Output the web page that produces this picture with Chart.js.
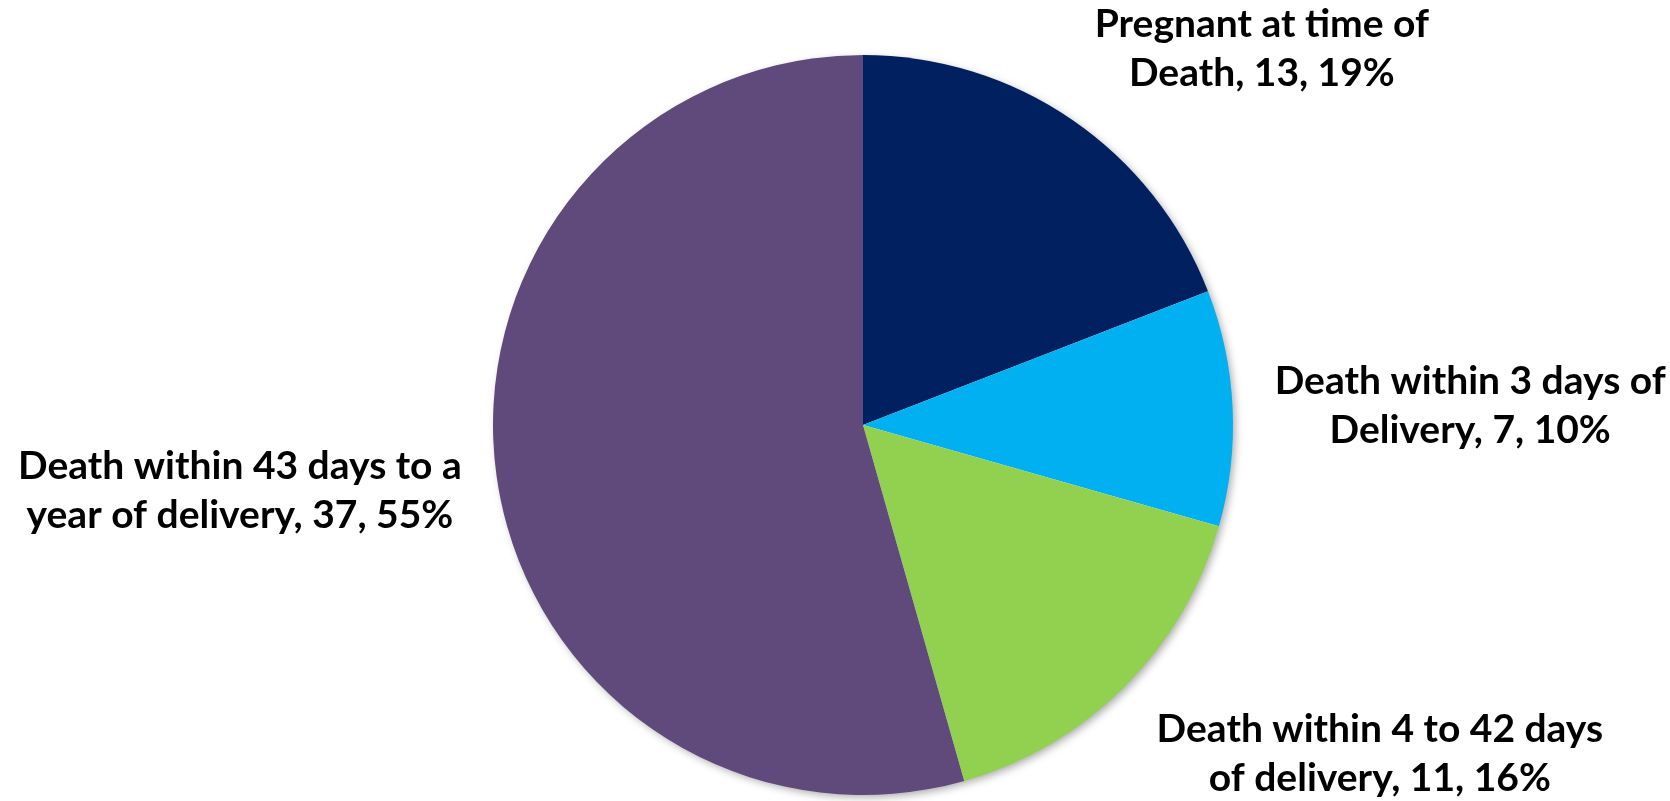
<!DOCTYPE html>
<html>
<head>
<meta charset="utf-8">
<script src="https://cdn.jsdelivr.net/npm/chart.js@4.4.1/dist/chart.umd.min.js"></script>
<style>
  html, body { margin: 0; padding: 0; background: #fff; }
  #wrap { width: 1670px; height: 801px; position: relative; }
</style>
</head>
<body>
<div id="wrap"><canvas id="deathTimingChart" width="1670" height="801"></canvas></div>
<script>
(function () {
  'use strict';

  var categories = [
    'Pregnant at time of Death',
    'Death within 3 days of Delivery',
    'Death within 4 to 42 days of delivery',
    'Death within 43 days to a year of delivery'
  ];
  var deaths = [13, 7, 11, 37];
  var percents = [19, 10, 16, 55];
  // first line of each label; the second line ends with the count and share
  var labelHeads = ['Pregnant at time of', 'Death within 3 days of', 'Death within 4 to 42 days', 'Death within 43 days to a'];
  var labelTails = ['Death', 'Delivery', 'of delivery', 'year of delivery'];
  var sliceColors = ['#002060', '#00B0F0', '#92D050', '#604A7B'];

  // label block centre x and first baseline y, relative to the pie centre in radius units
  var labelOffsets = [
    [1.078, -1.049],
    [1.641, -0.084],
    [1.397, 0.857],
    [-1.684, 0.146]
  ];

  var pieShadow = {
    id: 'pieShadow',
    beforeDatasetsDraw: function (chart) {
      var arc = chart.getDatasetMeta(0).data[0];
      if (!arc) return;
      var ctx = chart.ctx;
      ctx.save();
      ctx.shadowColor = 'rgba(0, 0, 0, 0.35)';
      ctx.shadowBlur = 9;
      ctx.shadowOffsetX = 3;
      ctx.shadowOffsetY = 3;
      ctx.fillStyle = '#ffffff';
      ctx.beginPath();
      ctx.arc(arc.x, arc.y, arc.outerRadius - 1, 0, Math.PI * 2);
      ctx.fill();
      ctx.restore();
    }
  };

  var outsideLabels = {
    id: 'outsideLabels',
    afterDatasetsDraw: function (chart) {
      var meta = chart.getDatasetMeta(0);
      var ctx = chart.ctx;
      ctx.save();
      ctx.fillStyle = '#000000';
      ctx.font = 'bold 39px Lato, "Open Sans", sans-serif';
      ctx.textAlign = 'center';
      ctx.textBaseline = 'alphabetic';
      meta.data.forEach(function (arc, i) {
        var r = arc.outerRadius;
        var cx = arc.x + labelOffsets[i][0] * r;
        var cy = arc.y + labelOffsets[i][1] * r;
        var lines = [
          labelHeads[i],
          labelTails[i] + ', ' + chart.data.datasets[0].data[i] + ', ' + percents[i] + '%'
        ];
        lines.forEach(function (line, j) {
          ctx.fillText(line, cx, cy + j * 49);
        });
      });
      ctx.restore();
    }
  };

  new Chart(document.getElementById('deathTimingChart'), {
    type: 'pie',
    plugins: [pieShadow, outsideLabels],
    data: {
      labels: categories,
      datasets: [{
        data: deaths,
        backgroundColor: sliceColors,
        borderWidth: 0
      }]
    },
    options: {
      responsive: false,
      animation: false,
      layout: { padding: { top: 55, bottom: 6, left: 56, right: 0 } },
      plugins: {
        legend: { display: false },
        tooltip: { enabled: false }
      }
    }
  });
})();
</script>
</body>
</html>
